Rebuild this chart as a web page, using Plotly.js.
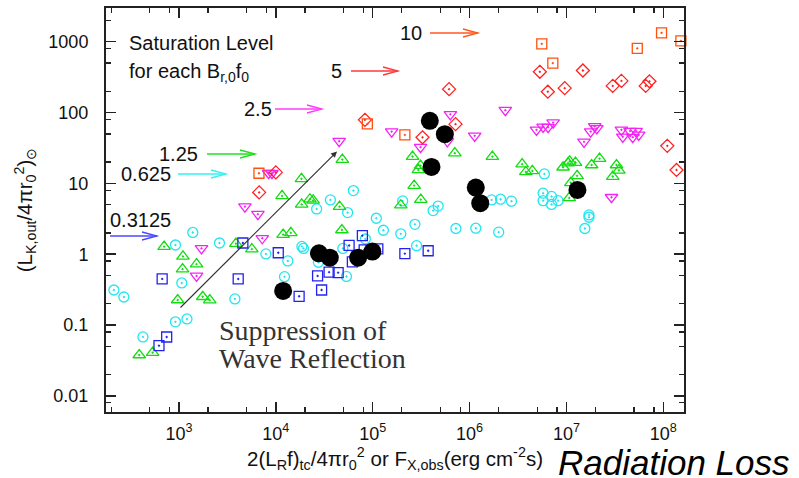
<!DOCTYPE html>
<html>
<head>
<meta charset="utf-8">
<script src="https://cdn.plot.ly/plotly-3.0.1.min.js"></script>
<style>html,body{margin:0;padding:0;background:#fff;}#chart{width:799px;height:478px;}</style>
</head>
<body>
<div id="chart"></div>
<script>
// ---- data ----
const cyanX = [213, 270, 425, 920, 1070, 920, 1210, 1390, 2620, 3780, 7900, 1.33e4, 1.23e4, 1.86e4, 1.93e4, 2.75e4, 5.36e4, 4.92e4, 8.41e4, 2.64e4, 3.66e4, 6.32e4, 5.51e4, 1.09e5, 1.29e5, 1.95e5, 2.04e5, 2.73e5, 2.84e5, 4.21e5, 4.74e5, 7.23e5, 1.16e6, 2.00e6, 1.69e6, 2.09e6, 2.71e6, 5.92e6, 5.75e6, 7.02e6, 5.75e6, 7.02e6, 8.20e6, 1.71e7, 1.71e7, 1.55e7];
const cyanY = [0.313, 0.249, 0.068, 1.35, 0.393, 0.111, 0.122, 2.03, 1.44, 0.234, 1.01, 0.804, 0.483, 1.29, 1.21, 0.771, 0.486, 1.21, 1.64, 4.36, 5.85, 7.91, 3.87, 3.22, 2.18, 1.94, 5.66, 2.64, 1.32, 4.13, 4.78, 2.31, 2.33, 2.05, 5.85, 5.98, 5.61, 13.6, 7.27, 6.55, 5.71, 5.05, 5.71, 3.59, 3.33, 2.31];

const greenX = [389, 535, 703, 1100, 1090, 1520, 970, 1760, 2080, 3870, 5660, 1.19e4, 1.43e4, 1.16e4, 1.84e4, 1.85e4, 2.25e4, 2.43e4, 4.55e4, 4.86e4, 4.81e4, 2.58e5, 2.96e5, 3.12e5, 2.68e5, 3.14e5, 1.95e5, 7.05e5, 1.72e6, 3.49e6, 3.81e6, 4.45e6, 9.24e6, 1.04e7, 1.08e7, 1.24e7, 1.82e7, 2.20e7, 1.29e7, 1.07e7, 3.29e7, 3.48e7, 3.01e7, 1.11e7];
const greenY = [0.0378, 0.0408, 1.28, 0.931, 0.616, 0.725, 0.226, 0.251, 0.225, 1.41, 1.18, 1.89, 2.00, 6.66, 11.6, 5.05, 5.98, 5.75, 4.70, 21.7, 2.20, 23.9, 15.5, 17.8, 9.31, 5.90, 4.92, 26.7, 23.9, 18.7, 14.5, 15.0, 16.9, 19.3, 20.5, 19.7, 18.2, 22.4, 12.8, 6.24, 18.2, 15.3, 12.5, 10.2];

const magentaX = [1710, 1520, 7250, 4800, 6530, 8430, 9120, 4.51e4, 1.57e5, 6.34e5, 3.12e5, 5.90e5, 1.13e6, 2.34e6, 4.91e6, 5.75e6, 6.47e6, 7.29e6, 1.52e7, 1.78e7, 1.96e7, 2.06e7, 3.70e7, 3.82e7, 4.54e7, 4.84e7, 5.24e7, 5.58e7, 2.92e7];
const magentaY = [1.21, 0.494, 1.68, 4.70, 3.68, 13.9, 13.9, 39.4, 53.9, 94.4, 32.5, 39.2, 46.9, 108, 57.0, 62.8, 62.2, 72.2, 38.6, 53.9, 63.8, 59.8, 57.0, 45.4, 54.8, 44.9, 54.6, 48.4, 6.38];

const redX = [6730, 1.00e4, 8.32e4, 6.15e5, 7.17e5, 3.27e5, 5.32e6, 6.43e6, 9.61e6, 1.48e7, 3.01e7, 3.70e7, 6.59e7, 7.20e7, 1.10e8, 1.37e8];
const redY = [7.46, 14.3, 78.9, 214, 68.6, 44.7, 376, 197, 221, 392, 238, 280, 238, 276, 33.9, 15.5];

const orangeX = [6700, 8.81e4, 2.15e5, 5.57e6, 7.24e6, 5.39e7, 9.60e7, 1.52e8];
const orangeY = [13.9, 69.2, 48.4, 934, 499, 807, 1336, 1030];

const blueX = [671, 622, 747, 4090, 4570, 1.06e4, 1.74e4, 2.70e4, 2.97e4, 3.55e4, 4.40e4, 5.71e4, 7.83e4, 8.17e4, 6.17e4, 2.15e5, 3.74e5, 1.13e5];
const blueY = [0.448, 0.0512, 0.0679, 0.448, 1.44, 1.05, 0.255, 0.494, 0.313, 0.559, 0.550, 1.33, 1.83, 1.15, 0.778, 1.02, 1.12, 1.19];

const blackX = [3.89e5, 5.56e5, 4.05e5, 1.16e6, 1.29e6, 1.30e7, 1.19e4, 2.79e4, 3.61e4, 7.08e4, 9.93e4];
const blackY = [76.4, 49.5, 17.1, 8.73, 5.25, 8.09, 0.303, 1.03, 0.895, 0.895, 1.09];

const xTickVals = [1e3, 1e4, 1e5, 1e6, 1e7, 1e8];
const xTickText = ['10<sup>3</sup>', '10<sup>4</sup>', '10<sup>5</sup>', '10<sup>6</sup>', '10<sup>7</sup>', '10<sup>8</sup>'];
const yTickVals = [0.01, 0.1, 1, 10, 100, 1000];
const yTickText = ['0.01', '0.1', '1', '10', '100', '1000'];

const levelLabels = ['10', '5', '2.5', '1.25', '0.625', '0.3125'];
const levelColors = ['#ff5a1e', '#ff3a3a', '#ff3cff', '#22e022', '#33f2f2', '#4848ff'];

// ---- helpers ----
const SANS = 'Liberation Sans, Arial, Helvetica, sans-serif';
function minorVals(lo, hi) {
  const v = [];
  for (let k = lo; k <= hi; k++) { [2, 5, 8].forEach(m => v.push(m * Math.pow(10, k))); }
  return v;
}
// plot area in pixels: left 106, right 684, top 8, bottom 412
const PL = 106, PW = 578, PT = 8, PH = 404;
const px = x => (x - PL) / PW;
const py = y => (PT + PH - y) / PH;

function arrow(x0, x1, y, color) {
  return [
    {type: 'line', xref: 'paper', yref: 'paper', x0: px(x0), x1: px(x1), y0: py(y), y1: py(y),
     line: {color: color, width: 1.3}},
    {type: 'path', xref: 'paper', yref: 'paper',
     path: `M${px(x1 - 15)},${py(y - 4)} L${px(x1)},${py(y)} L${px(x1 - 15)},${py(y + 4)}`,
     line: {color: color, width: 1.3}}
  ];
}

function sc(x, y, symbol, color, size, name) {
  return {x: x, y: y, type: 'scatter', mode: 'markers', name: name, cliponaxis: false,
    marker: {symbol: symbol, size: size, color: color, line: {color: color, width: 1.3}}};
}

const traces = [
  sc(cyanX, cyanY, 'circle-open-dot', '#22e6f0', 10, '0.625'),
  sc(greenX, greenY, 'triangle-up-open-dot', '#11dd11', 11, '1.25'),
  sc(magentaX, magentaY, 'triangle-down-open-dot', '#f522f5', 11, '2.5'),
  sc(redX, redY, 'diamond-open-dot', '#ff2020', 10, '5'),
  sc(orangeX, orangeY, 'square-open-dot', '#ff5010', 10, '10'),
  sc(blueX, blueY, 'square-open-dot', '#2222ee', 10, '0.3125'),
  {x: blackX, y: blackY, type: 'scatter', mode: 'markers', name: 'obs', cliponaxis: false,
   marker: {symbol: 'circle', size: 18, color: '#000'}}
];

const shapes = [].concat(
  arrow(430, 478, 33, levelColors[0]),
  arrow(351, 398, 71, levelColors[1]),
  arrow(275, 322, 109, levelColors[2]),
  arrow(207, 255, 154, levelColors[3]),
  arrow(178, 226, 174, levelColors[4]),
  arrow(110, 157, 236, levelColors[5])
);

function lab(text, x, y, xanchor, size, extra) {
  return Object.assign({text: text, xref: 'paper', yref: 'paper', x: px(x), y: py(y),
    xanchor: xanchor, yanchor: 'middle', showarrow: false, align: 'left',
    font: {family: SANS, size: size, color: '#111'}}, extra || {});
}

const annotations = [
  lab('Saturation Level', 127, 43, 'left', 20),
  lab('for each B<sub>r,0</sub>f<sub>0</sub>', 127, 72, 'left', 20),
  lab(levelLabels[0], 424, 33, 'right', 20),
  lab(levelLabels[1], 344, 71, 'right', 20),
  lab(levelLabels[2], 274, 109, 'right', 20),
  lab(levelLabels[3], 200, 154, 'right', 20),
  lab(levelLabels[4], 173, 174, 'right', 20),
  lab(levelLabels[5], 173, 220, 'right', 20),
  lab('Suppression of', 217, 330, 'left', 28, {font: {family: 'Liberation Serif, Times New Roman, serif', size: 28, color: '#333'}}),
  lab('Wave Reflection', 217, 358, 'left', 28, {font: {family: 'Liberation Serif, Times New Roman, serif', size: 28, color: '#333'}}),
  lab('<i>Radiation Loss</i>', 556, 463, 'left', 35, {font: {family: SANS, size: 35, color: '#000'}}),
  {text: '', xref: 'paper', yref: 'paper', x: px(337), y: py(151.5), axref: 'pixel', ayref: 'pixel',
   ax: -158, ay: 157.5, showarrow: true, arrowhead: 2, arrowsize: 1, arrowwidth: 1.2, arrowcolor: '#333', standoff: 0}
];

const axisCommon = {
  type: 'log', showgrid: false, zeroline: false, showline: true, linewidth: 2, linecolor: '#222',
  mirror: 'ticks', ticks: 'inside', ticklen: 10, tickwidth: 1.5, tickcolor: '#222',
  tickfont: {family: SANS, size: 18, color: '#111'}, tickmode: 'array'
};

const layout = {
  width: 799, height: 478,
  margin: {l: 106, r: 115, t: 8, b: 66, pad: 0},
  paper_bgcolor: '#fff', plot_bgcolor: '#fff',
  showlegend: false,
  xaxis: Object.assign({}, axisCommon, {
    range: [2.247, 8.214], tickvals: xTickVals, ticktext: xTickText, ticklabelstandoff: 4,
    minor: {tickmode: 'array', tickvals: minorVals(2, 8), ticks: 'inside', ticklen: 5, tickwidth: 1.3, tickcolor: '#222', showgrid: false},
    title: {text: '2(L<sub>R</sub>f)<sub>tc</sub>/4πr<sub>0</sub><sup>2</sup> or F<sub>X,obs</sub>(erg cm<sup>-2</sup>s)',
            font: {family: SANS, size: 20.5, color: '#111'}, standoff: 9}
  }),
  yaxis: Object.assign({}, axisCommon, {
    range: [-2.227, 3.476], tickvals: yTickVals, ticktext: yTickText, ticklabelstandoff: 12,
    minor: {tickmode: 'array', tickvals: minorVals(-3, 3), ticks: 'inside', ticklen: 5, tickwidth: 1.3, tickcolor: '#222', showgrid: false},
    title: {text: '(L<sub>K,out</sub>/4πr<sub>0</sub><sup>2</sup>)<sub>⊙</sub>',
            font: {family: SANS, size: 20.5, color: '#111'}, standoff: 10}
  }),
  shapes: shapes,
  annotations: annotations
};

Plotly.newPlot('chart', traces, layout, {displayModeBar: false, staticPlot: true});
</script>
</body>
</html>
